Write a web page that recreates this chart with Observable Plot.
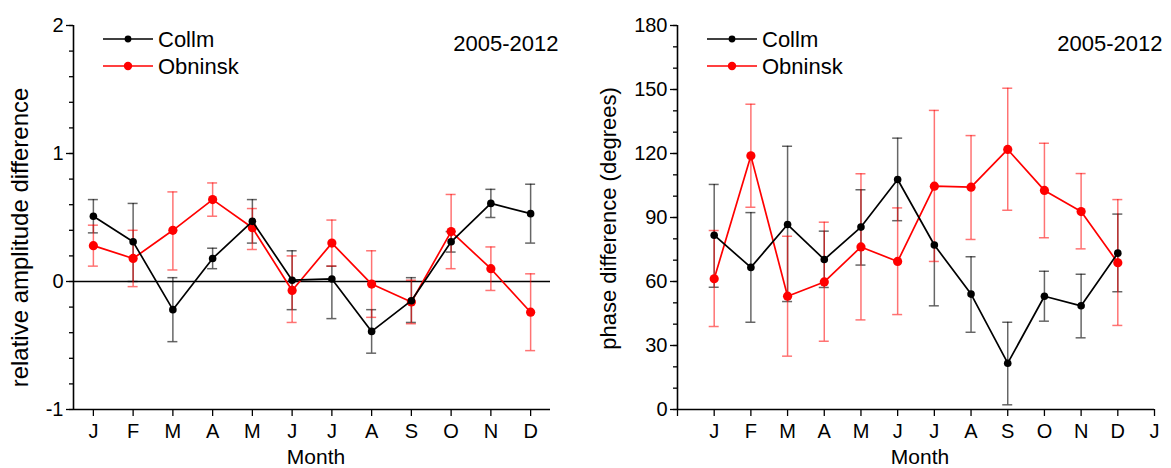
<!DOCTYPE html>
<html>
<head>
<meta charset="utf-8">
<script src="https://cdn.jsdelivr.net/npm/d3@7"></script>
<script src="https://cdn.jsdelivr.net/npm/@observablehq/plot@0.6"></script>
<style>
  body { margin: 0; background: #fff; }
  #charts { display: flex; width: 1171px; height: 468px; }
  #charts svg { display: block; }
</style>
</head>
<body>
<div id="charts"></div>
<script>
// Months (1 = January) and their single-letter labels
const months = [1, 2, 3, 4, 5, 6, 7, 8, 9, 10, 11, 12];
const monthLetters = ["J", "F", "M", "A", "M", "J", "J", "A", "S", "O", "N", "D"];
const period = "2005-2012";
const stations = ["Collm", "Obninsk"];

// Relative amplitude difference, with lower / upper error limits
const ampCollm   = [0.51, 0.31, -0.22, 0.18, 0.47, 0.01, 0.02, -0.39, -0.15, 0.31, 0.61, 0.53];
const ampCollmLo = [0.38, 0.00, -0.47, 0.10, 0.30, -0.22, -0.29, -0.56, -0.32, 0.23, 0.50, 0.30];
const ampCollmHi = [0.64, 0.61, 0.03, 0.26, 0.64, 0.24, 0.12, -0.22, 0.03, 0.39, 0.72, 0.76];
const ampObn     = [0.28, 0.18, 0.40, 0.64, 0.42, -0.07, 0.30, -0.02, -0.16, 0.39, 0.10, -0.24];
const ampObnLo   = [0.12, -0.04, 0.09, 0.51, 0.25, -0.32, 0.12, -0.28, -0.33, 0.10, -0.07, -0.54];
const ampObnHi   = [0.44, 0.40, 0.70, 0.77, 0.57, 0.20, 0.48, 0.24, 0.01, 0.68, 0.27, 0.06];

// Phase difference in degrees, with lower / upper error limits
const phaseCollm   = [81.7, 66.6, 86.7, 70.3, 85.5, 107.8, 77.1, 54.1, 21.7, 53.1, 48.6, 73.3];
const phaseCollmLo = [57.3, 40.9, 50.6, 57.2, 67.7, 88.5, 48.6, 36.2, 2.2, 41.4, 33.6, 55.2];
const phaseCollmHi = [105.5, 92.3, 123.4, 83.6, 103.0, 127.2, null, 71.6, 40.9, 64.8, 63.4, 91.6];
const phaseObn     = [61.3, 118.9, 53.1, 59.8, 76.2, 69.4, 104.7, 104.2, 121.9, 102.7, 92.8, 68.8];
const phaseObnLo   = [38.9, 94.8, 25.0, 32.0, 42.0, 44.5, 69.4, 79.7, 93.4, 80.5, 75.3, 39.4];
const phaseObnHi   = [83.9, 143.1, 81.2, 87.8, 110.5, 94.5, 140.2, 128.4, 150.6, 124.8, 110.6, 98.4];

// Axis ticks
const ampMajor = [-1, 0, 1, 2];
const ampMinor = d3.range(-1, 2.0001, 0.2).map(v => +v.toFixed(1));
const phaseMajor = [0, 30, 60, 90, 120, 150, 180];
const phaseMinor = d3.range(0, 181, 10);
const phaseMonthTicks = d3.range(0, 14); // 0 .. 13, the 13th being next January

const FONT = '"Liberation Sans", Arial, Helvetica, sans-serif';
const seriesColor = {Collm: "#000000", Obninsk: "#ff0000"};
const dotRadius = {Collm: 3.8, Obninsk: 4.6};

function rows(vals, lo, hi) {
  return months.map((m, i) => ({m, v: vals[i], lo: lo[i], hi: hi[i]}));
}

function errorBars(data, color, opacity) {
  const s = {stroke: color, strokeOpacity: opacity, strokeWidth: 1.5};
  const cap = {x1: "m", x2: "m", insetLeft: -5, insetRight: -5};
  return [
    Plot.ruleX(data, {x: "m", y1: "lo", y2: "v", ...s}),
    Plot.ruleX(data, {x: "m", y1: "v", y2: "hi", ...s}),
    Plot.ruleY(data, {y: "lo", ...cap, ...s}),
    Plot.ruleY(data, {y: "hi", ...cap, ...s})
  ];
}

function series(data, name) {
  return [
    Plot.line(data, {x: "m", y: "v", stroke: seriesColor[name], strokeWidth: 1.7}),
    Plot.dot(data, {x: "m", y: "v", r: dotRadius[name], fill: seriesColor[name], stroke: "none"})
  ];
}

function panel(cfg) {
  const collm = rows(cfg.collm, cfg.collmLo, cfg.collmHi);
  const obn = rows(cfg.obn, cfg.obnLo, cfg.obnHi);
  const svg = Plot.plot({
    width: cfg.width,
    height: 468,
    marginLeft: cfg.marginLeft,
    marginRight: cfg.marginRight,
    marginTop: 25,
    marginBottom: 59,
    style: {fontFamily: FONT, fontSize: "20px", color: "black", background: "white", overflow: "visible"},
    x: {domain: cfg.xDomain},
    y: {domain: cfg.yDomain},
    marks: [
      Plot.axisY({ticks: cfg.yMinor, tickSize: 4, fill: "none", label: null, strokeWidth: 1.3}),
      Plot.axisY({ticks: cfg.yMajor, tickFormat: d => String(d), tickSize: 7, tickPadding: 3, label: null, strokeWidth: 1.3}),
      Plot.axisX({ticks: cfg.xTicks, tickFormat: cfg.xFormat, tickSize: 7, tickPadding: 7, label: null, strokeWidth: 1.3}),
      Plot.ruleX([cfg.xDomain[0]], {strokeWidth: 1.6}),
      Plot.ruleY([cfg.yDomain[0]], {strokeWidth: 1.6}),
      cfg.zeroLine ? Plot.ruleY([0], {strokeWidth: 1.3}) : null,
      ...errorBars(collm, "#000", 0.6),
      ...errorBars(obn, "#ff0000", 0.55),
      ...series(obn, "Obninsk"),
      ...series(collm, "Collm"),
      Plot.text([cfg.yLabel], {frameAnchor: "left", rotate: -90, textAnchor: "middle", lineAnchor: "middle",
        dx: cfg.yLabelDx, dy: cfg.yLabelDy, fontSize: cfg.yLabelSize}),
      Plot.text(["Month"], {frameAnchor: "bottom", lineAnchor: "middle", dx: 4, dy: 48, fontSize: 21}),
      Plot.text([period], {frameAnchor: "top-right", dx: 8, dy: 10, fontSize: 22})
    ]
  });

  // Legend in the upper-left corner of the frame
  const legend = d3.select(svg).append("g")
    .attr("transform", `translate(${cfg.marginLeft + 30},0)`)
    .attr("font-family", FONT).attr("font-size", 22).attr("text-anchor", "start");
  const rowsY = [39, 66];
  stations.forEach((name, i) => {
    const g = legend.append("g").attr("transform", `translate(0,${rowsY[i]})`);
    g.append("line").attr("x1", 0).attr("x2", 50).attr("stroke", seriesColor[name]).attr("stroke-width", 1.7);
    g.append("circle").attr("cx", 25).attr("r", dotRadius[name] - 0.4).attr("fill", seriesColor[name]);
    g.append("text").attr("x", 55).attr("y", 7.5).attr("fill", "black").attr("text-anchor", "start").text(name);
  });
  return svg;
}

const charts = document.getElementById("charts");

charts.appendChild(panel({
  width: 585, marginLeft: 73, marginRight: 35,
  xDomain: [0.5, 12.5], xTicks: months, xFormat: m => monthLetters[m - 1],
  yDomain: [-1, 2], yMajor: ampMajor, yMinor: ampMinor, zeroLine: true,
  yLabel: "relative amplitude difference", yLabelDx: -53, yLabelDy: 20, yLabelSize: 24,
  collm: ampCollm, collmLo: ampCollmLo, collmHi: ampCollmHi,
  obn: ampObn, obnLo: ampObnLo, obnHi: ampObnHi
}));

charts.appendChild(panel({
  width: 586, marginLeft: 92, marginRight: 17,
  xDomain: [0, 13], xTicks: phaseMonthTicks, xFormat: m => (m === 0 ? "" : monthLetters[(m - 1) % 12]),
  yDomain: [0, 180], yMajor: phaseMajor, yMinor: phaseMinor, zeroLine: false,
  yLabel: "phase difference (degrees)", yLabelDx: -69, yLabelDy: 1, yLabelSize: 22,
  collm: phaseCollm, collmLo: phaseCollmLo, collmHi: phaseCollmHi,
  obn: phaseObn, obnLo: phaseObnLo, obnHi: phaseObnHi
}));
</script>
</body>
</html>
